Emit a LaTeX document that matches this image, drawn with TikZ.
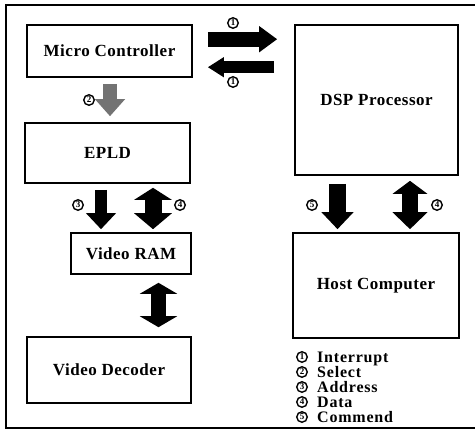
\documentclass[tikz,border=0pt]{standalone}
\usepackage{fontspec}
\setmainfont{Liberation Serif}
\usetikzlibrary{arrows.meta,calc}
\tikzset{
  box/.style={draw=black,line width=1.6pt,fill=white,inner sep=0pt,
    font=\fontsize{17}{17}\selectfont\bfseries\addfontfeature{LetterSpace=3}},
  num/.style={circle,draw=black,line width=1.4pt,inner sep=0pt,minimum size=10.5pt,
    font=\fontsize{9}{9}\selectfont\bfseries},
  legend/.style={anchor=base west,inner sep=0pt,text height=11pt,text depth=3.4pt,
    font=\fontsize{16}{16}\selectfont\bfseries\addfontfeature{LetterSpace=5}},
}
\begin{document}
\begin{tikzpicture}[x=1pt,y=-1pt]
\useasboundingbox (0,0) rectangle (475,432);
\draw[line width=1.6pt] (475,5) -- (6,5) -- (6,428) -- (475,428);

\node[box,minimum width=165pt,minimum height=52pt] (mc) at (109.5,51) {Micro Controller};
\node[box,minimum width=165pt,minimum height=60pt] (epld) at (107.5,153) {EPLD};
\node[box,minimum width=120pt,minimum height=41pt] (vram) at (131,253.5) {Video RAM};
\node[box,minimum width=164pt,minimum height=66pt] (vdec) at (109,370) {Video Decoder};
\node[box,minimum width=163pt,minimum height=150pt] (dsp) at (376.5,100) {DSP Processor};
\node[box,minimum width=166pt,minimum height=105pt] (host) at (376,285.5) {Host Computer};

% arrows between micro controller and DSP
\draw[line width=15pt,-{Triangle[width=25pt,length=18pt]}]
  ($(mc.north east)+(15,15)$) -- ($(dsp.north west)+(-17,15)$);
\draw[line width=12pt,-{Triangle[width=19pt,length=16pt]}]
  ($(dsp.north west)+(-20,43)$) -- ($(mc.north east)+(15,43)$);
% select
\draw[line width=14pt,draw=black!55,-{Triangle[width=29pt,length=17pt]}]
  ($(mc.south)+(0.5,6)$) -- ($(epld.north)+(2.5,-6)$);
% address
\draw[line width=12pt,-{Triangle[width=29pt,length=16pt]}]
  ($(epld.south)+(-6.5,6)$) -- ($(vram.north)+(-30,-3)$);
% data EPLD - VRAM
\draw[line width=17pt,{Triangle[width=37pt,length=12pt]}-{Triangle[width=37pt,length=16pt]}]
  ($(epld.south)+(45.5,4)$) -- ($(vram.north)+(22,-3)$);
% data VRAM - decoder
\draw[line width=15pt,{Triangle[width=37pt,length=11pt]}-{Triangle[width=37pt,length=11pt]}]
  ($(vram.south)+(27.5,8)$) -- ($(vdec.north)+(49.5,-9)$);
% command DSP - host
\draw[line width=17pt,-{Triangle[width=31pt,length=17pt]}]
  ($(dsp.south)+(-39,8)$) -- ($(host.north)+(-38.5,-3)$);
% data DSP - host
\draw[line width=16pt,{Triangle[width=34pt,length=13pt]}-{Triangle[width=34pt,length=17pt]}]
  ($(dsp.south)+(33.5,5)$) -- ($(host.north)+(34,-3)$);

\node[num] (n1a) at (233,23) {1};
\node[num] (n1b) at (233,82) {1};
\node[num] (n2) at (89,100) {2};
\node[num] (n3) at (78,205) {3};
\node[num] (n4a) at (180,205) {4};
\node[num] (n5) at (312,205) {5};
\node[num] (n4b) at (437,205) {4};

\node[num] (c1) at (302,357) {1};
\node[num] (c2) at (302,372) {2};
\node[num] (c3) at (302,387) {3};
\node[num] (c4) at (302,402) {4};
\node[num] (c5) at (302,417) {5};
\node[legend] (l1) at (317,362) {Interrupt};
\node[legend] (l2) at (317,377) {Select};
\node[legend] (l3) at (317,392) {Address};
\node[legend] (l4) at (317,407) {Data};
\node[legend] (l5) at (317,422) {Commend};
\end{tikzpicture}
\end{document}
